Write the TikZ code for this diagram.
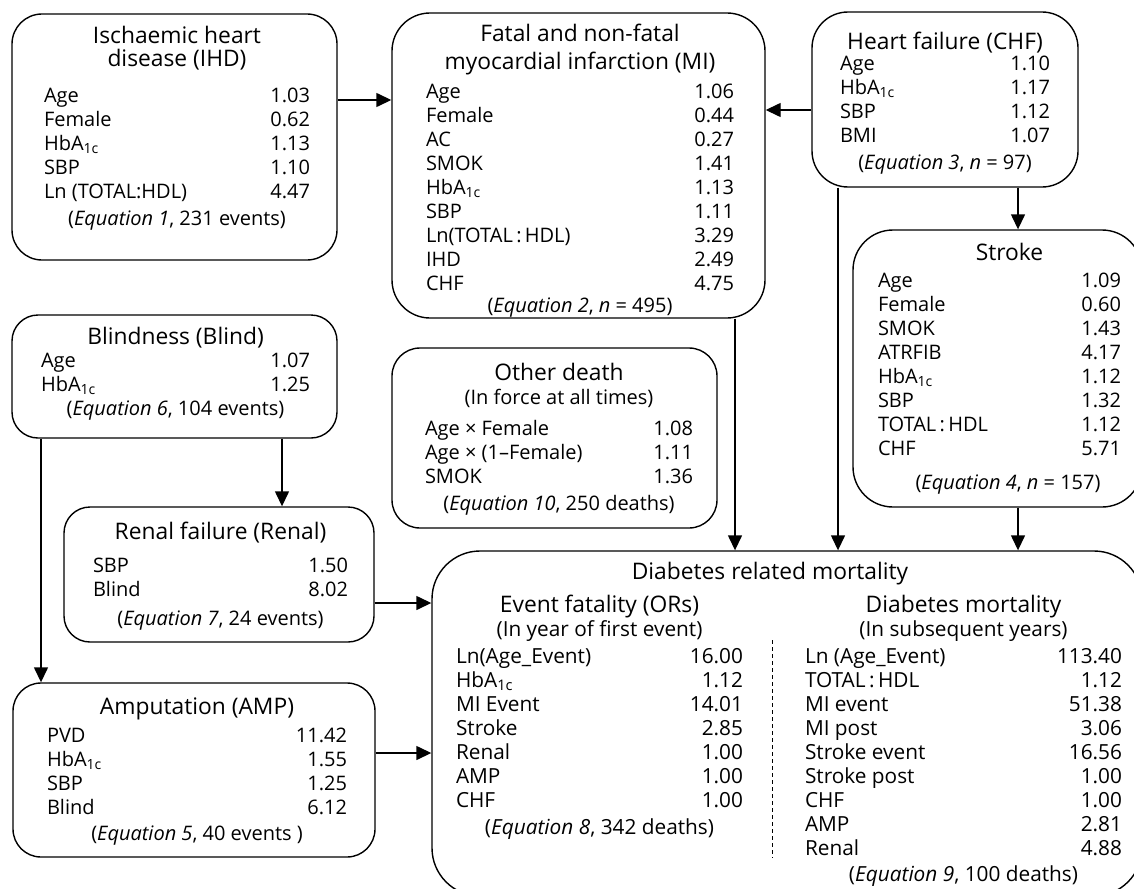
\documentclass[tikz,border=0pt]{standalone}
\usepackage{fontspec}
\setmainfont{Open Sans}
\usetikzlibrary{arrows.meta}

\newcommand\hba{HbA\textsubscript{1c}}
\newcommand\rowsize{\fontsize{10}{12}\selectfont}
\newcommand\bigrowsize{\fontsize{10.4}{12}\selectfont}
\newcommand\headsize{\fontsize{11.4}{12}\selectfont}
\newcommand\boxhead[1]{\multicolumn{2}{@{}c@{}}{\headsize #1}}
\newcommand\boxfoot[1]{\multicolumn{2}{@{}c@{}}{#1}}

\begin{document}
\begin{tikzpicture}[x=0.5pt, y=-0.5pt]
  \tikzset { panel/.style = { draw, line width=0.7pt, rounded corners=#1, inner sep=0pt } }
  \tikzset { tab/.style = { anchor=base, inner sep=0pt, font=\rowsize } }
  \tikzset { edge/.style = { line width=0.7pt, -{Triangle[length=7.5pt,width=7pt]} } }

  \useasboundingbox (0,0) rectangle (1134,888);
  \clip (0,0) rectangle (1134,888);

  % boxes
  \node[panel=15pt, minimum width=162.5pt, minimum height=123pt] (ihd) at (174.5,137) {};
  \node[panel=19pt, minimum width=186.5pt, minimum height=152.5pt] (mi) at (578.5,165.5) {};
  \node[panel=18pt, minimum width=133pt, minimum height=87.5pt] (chf) at (945,99.5) {};
  \node[panel=20pt, minimum width=144.5pt, minimum height=138.5pt] (stroke) at (997.5,368.5) {};
  \node[panel=13pt, minimum width=162.5pt, minimum height=61.5pt] (blind) at (174.5,376.5) {};
  \node[panel=13pt, minimum width=155pt, minimum height=67.5pt] (renal) at (219,574.5) {};
  \node[panel=14pt, minimum width=181pt, minimum height=87pt] (amp) at (194,770) {};
  \node[panel=14pt, minimum width=162.5pt, minimum height=90pt] (other) at (554.5,438) {};
  \node[panel=24pt, minimum width=355pt, minimum height=172.5pt] (mort) at (787,723.5) {};

  % contents
  \node[tab] (ihdTab) at (177,44) {\begin{tabular*}{133pt}[t]{@{}l@{\extracolsep{\fill}}r@{}}
    \boxhead{Ischaemic heart}\\[-0.8pt]
    \boxhead{disease (IHD)}\\[5.7pt]
    Age & 1.03\\
    Female & 0.62\\
    \hba & 1.13\\
    SBP & 1.10\\
    Ln (TOTAL:HDL) & 4.47\\[1.5pt]
    \boxfoot{(\textit{Equation 1}, 231 events)}
  \end{tabular*}};

  \node[tab] (miTab) at (580,42) {\begin{tabular*}{154pt}[t]{@{}l@{\extracolsep{\fill}}r@{}}
    \boxhead{Fatal and non-fatal}\\[1.2pt]
    \boxhead{myocardial infarction (MI)}\\[2.7pt]
    Age & 1.06\\
    Female & 0.44\\
    AC & 0.27\\
    SMOK & 1.41\\
    \hba & 1.13\\
    SBP & 1.11\\
    Ln(TOTAL\,:\,HDL) & 3.29\\
    IHD & 2.49\\
    CHF & 4.75\\[-1pt]
    \boxfoot{(\textit{Equation 2}, \textit{n} = 495)}
  \end{tabular*}};

  \node[tab] (chfTab) at (945,50) {\begin{tabular*}{105pt}[t]{@{}l@{\extracolsep{\fill}}r@{}}
    \boxhead{Heart failure (CHF)}\\[-1.8pt]
    Age & 1.10\\
    \hba & 1.17\\
    SBP & 1.12\\
    BMI & 1.07\\[1.5pt]
    \boxfoot{(\textit{Equation 3}, \textit{n} = 97)}
  \end{tabular*}};

  \node[tab] (strokeTab) at (999.5,260) {\begin{tabular*}{121.5pt}[t]{@{}l@{\extracolsep{\fill}}r@{}}
    \boxhead{\hspace{10pt}Stroke}\\[1.7pt]
    Age & 1.09\\
    Female & 0.60\\
    SMOK & 1.43\\
    ATRFIB & 4.17\\
    \hba & 1.12\\
    SBP & 1.32\\
    TOTAL\,:\,HDL & 1.12\\
    CHF & 5.71\\[5pt]
    \boxfoot{\hspace{8.5pt}(\textit{Equation 4}, \textit{n} = 157)}
  \end{tabular*}};

  \node[tab] (blindTab) at (175.5,344) {\begin{tabular*}{134.5pt}[t]{@{}l@{\extracolsep{\fill}}r@{}}
    \boxhead{Blindness (Blind)}\\[-0.3pt]
    Age & 1.07\\
    \hba & 1.25\\
    \boxfoot{(\textit{Equation 6}, 104 events)}
  \end{tabular*}};

  \node[tab] (renalTab) at (220.5,539) {\begin{tabular*}{127.5pt}[t]{@{}l@{\extracolsep{\fill}}r@{}}
    \boxhead{Renal failure (Renal)}\\[4.7pt]
    SBP & 1.50\\
    Blind & 8.02\\[2.5pt]
    \boxfoot{(\textit{Equation 7}, 24 events)}
  \end{tabular*}};

  \node[tab] (ampTab) at (197,714) {\begin{tabular*}{150pt}[t]{@{}l@{\extracolsep{\fill}}r@{}}
    \boxhead{Amputation (AMP)}\\[2.2pt]
    PVD & 11.42\\
    \hba & 1.55\\
    SBP & 1.25\\
    Blind & 6.12\\[1pt]
    \boxfoot{(\textit{Equation 5}, 40 events )}
  \end{tabular*}};

  \node[tab] (otherTab) at (559,380) {\begin{tabular*}{134pt}[t]{@{}l@{\extracolsep{\fill}}r@{}}
    \boxhead{Other death}\\[0.2pt]
    \boxfoot{(In force at all times)}\\[3.5pt]
    Age × Female & 1.08\\
    Age × (1–Female) & 1.11\\
    SMOK & 1.36\\[1.5pt]
    \boxfoot{(\textit{Equation 10}, 250 deaths)}
  \end{tabular*}};

  \node[tab] (mortHead) at (770,579) {\headsize Diabetes related mortality};

  \node[tab, font=\bigrowsize] (fatalTab) at (599.5,612) {\begin{tabular*}{143.5pt}[t]{@{}l@{\extracolsep{\fill}}r@{}}
    \boxhead{Event fatality (ORs)}\\[0.2pt]
    \boxfoot{(In year of first event)}\\[1.5pt]
    Ln(Age\_Event) & 16.00\\
    \hba & 1.12\\
    MI Event & 14.01\\
    Stroke & 2.85\\
    Renal & 1.00\\
    AMP & 1.00\\
    CHF & 1.00\\[1.5pt]
    \boxfoot{(\textit{Equation 8}, 342 deaths)}
  \end{tabular*}};

  \node[tab, font=\bigrowsize] (dmTab) at (963.5,612) {\begin{tabular*}{158.5pt}[t]{@{}l@{\extracolsep{\fill}}r@{}}
    \boxhead{Diabetes mortality\hspace{13.5pt}}\\[0.2pt]
    \boxfoot{(In subsequent years)\hspace{13.5pt}}\\[1.5pt]
    Ln (Age\_Event) & 113.40\\
    TOTAL\,:\,HDL & 1.12\\
    MI event & 51.38\\
    MI post & 3.06\\
    Stroke event & 16.56\\
    Stroke post & 1.00\\
    CHF & 1.00\\
    AMP & 2.81\\
    Renal & 4.88\\[1pt]
    \boxfoot{(\textit{Equation 9}, 100 deaths)\hspace{8.5pt}}
  \end{tabular*}};

  \draw[line width=0.5pt, dash pattern=on 2pt off 1.5pt] (772,640) -- (772,858);

  % connectors
  \coordinate (ihdOut) at ([yshift=18.5pt]ihd.east);
  \coordinate (chfOut) at ([yshift=-5.25pt]chf.west);
  \coordinate (chfDown) at ([xshift=36.5pt]chf.south);
  \coordinate (chfDeath) at ([xshift=-53.5pt]chf.south);
  \coordinate (miDeath) at ([xshift=78.25pt]mi.south);
  \coordinate (strokeDeath) at ([xshift=10.25pt]stroke.south);
  \coordinate (blindRenal) at ([xshift=53.75pt]blind.south);
  \coordinate (blindAmp) at ([xshift=-66.75pt]blind.south);
  \coordinate (renalDeath) at ([yshift=-14.25pt]renal.east);
  \coordinate (ampDeath) at ([yshift=8.5pt]amp.east);

  \draw[edge] (ihdOut) -- (ihdOut -| mi.west);
  \draw[edge] (chfOut) -- (chfOut -| mi.east);
  \draw[edge] (chfDown) -- (chfDown |- stroke.north);
  \draw[edge] (chfDeath) -- (chfDeath |- mort.north);
  \draw[edge] (miDeath) -- (miDeath |- mort.north);
  \draw[edge] (strokeDeath) -- (strokeDeath |- mort.north);
  \draw[edge] (blindRenal) -- (blindRenal |- renal.north);
  \draw[edge] (blindAmp) -- (blindAmp |- amp.north);
  \draw[edge] (renalDeath) -- (renalDeath -| mort.west);
  \draw[edge] (ampDeath) -- (ampDeath -| mort.west);

\end{tikzpicture}
\end{document}
